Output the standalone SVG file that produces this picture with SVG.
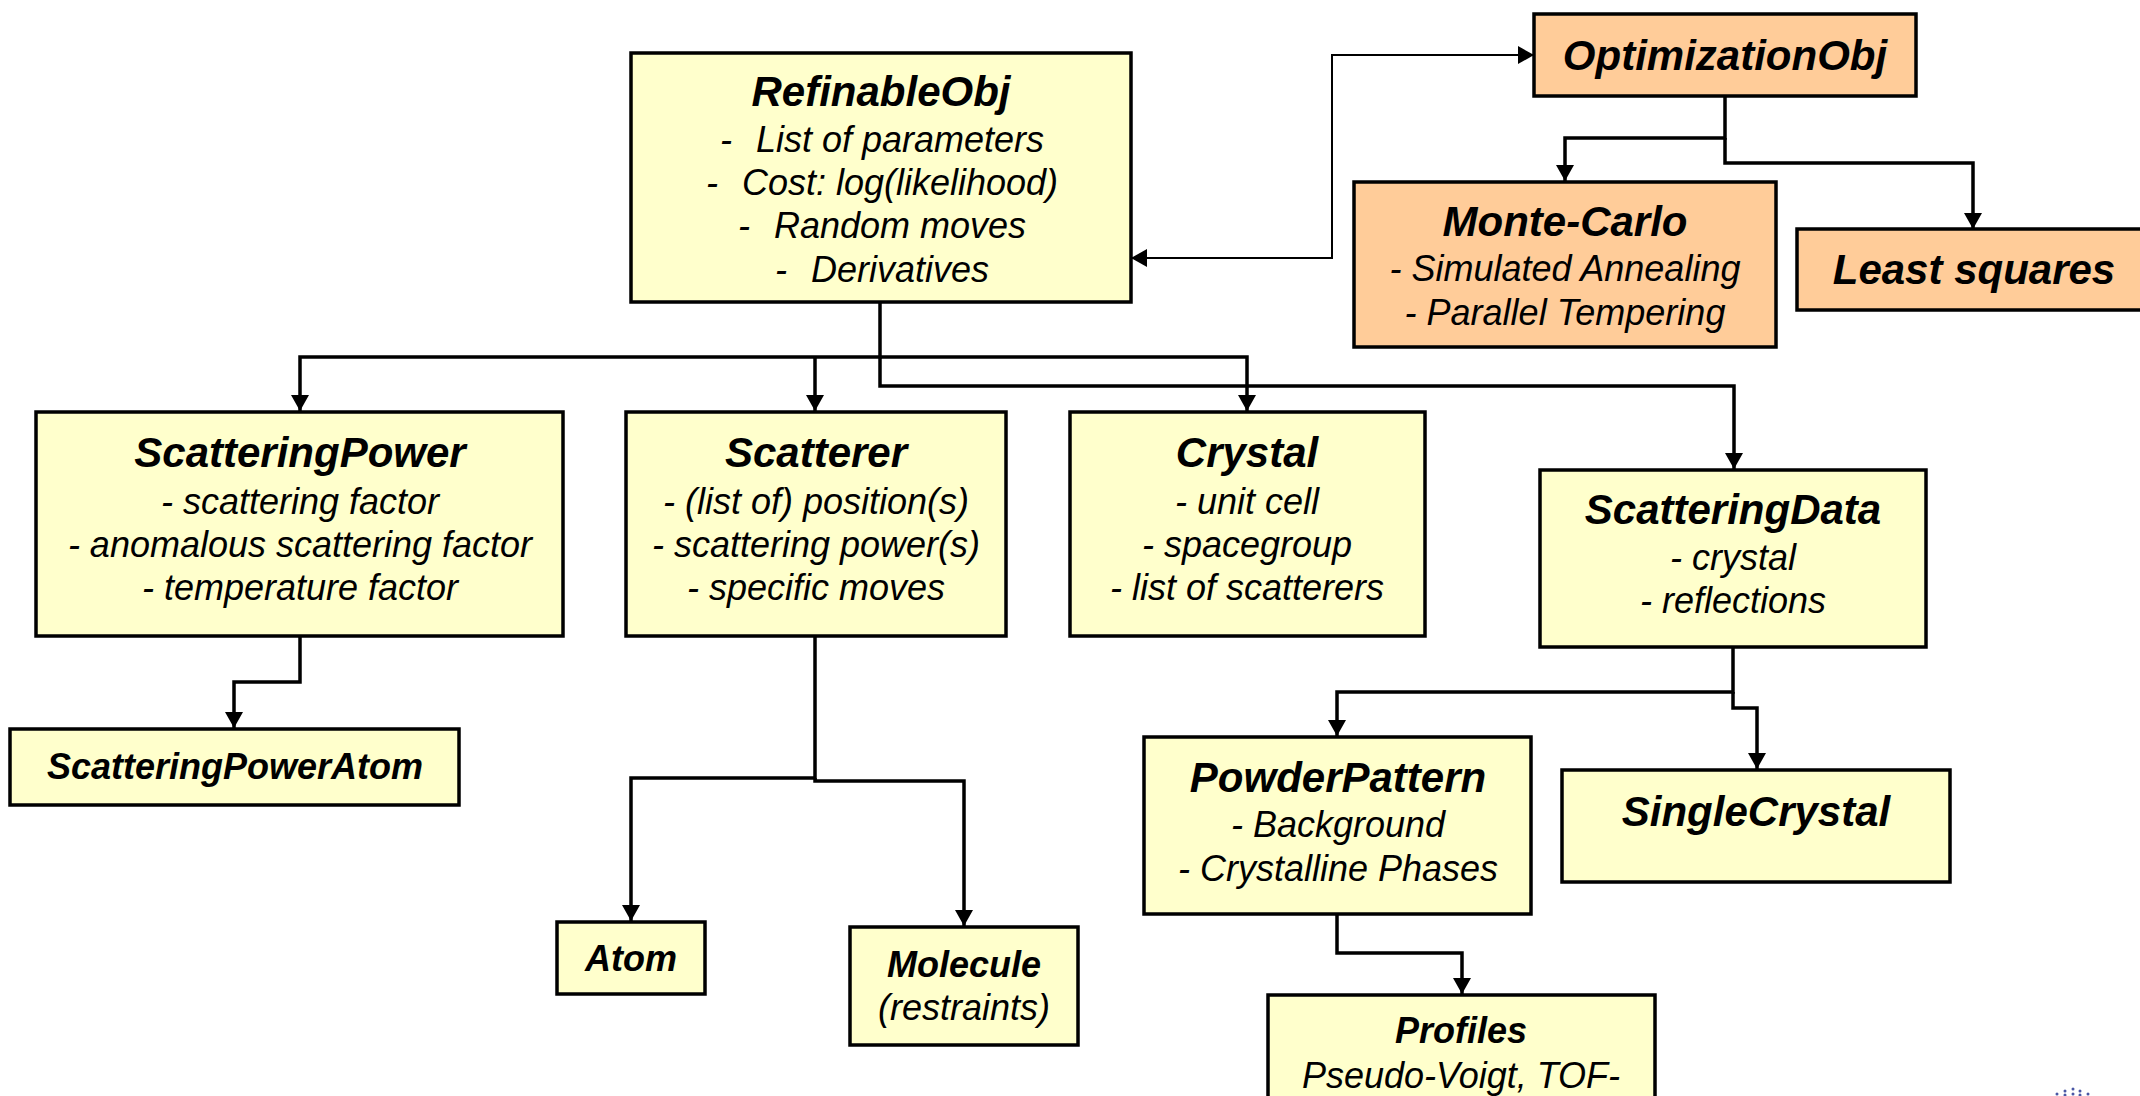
<svg xmlns="http://www.w3.org/2000/svg" width="2140" height="1096" viewBox="0 0 2140 1096">
  <style>
    .box { stroke: #000; stroke-width: 3.5; }
    .yel { fill: #FFFFCC; }
    .org { fill: #FFCC99; }
    text { font-family: "Liberation Sans", Arial, sans-serif; font-style: italic; fill: #000; text-anchor: middle; }
    .t { font-weight: bold; font-size: 42px; }
    .ts { font-weight: bold; font-size: 36px; }
    .b { font-size: 36px; }
    .link { fill: none; stroke: #000; stroke-width: 3.5; }
    .thin { fill: none; stroke: #000; stroke-width: 2; }
  </style>
  <defs>
    <marker id="arr" markerUnits="userSpaceOnUse" markerWidth="18" markerHeight="18" viewBox="0 0 16 18" refX="16" refY="9" orient="auto-start-reverse">
      <path d="M0,0 L16,9 L0,18 Z" fill="#000"/>
    </marker>
  </defs>

  <rect width="2140" height="1096" fill="#fff"/>

  <!-- connectors -->
  <g id="connectors">
    <path class="thin" d="M1131,258 H1332 V55 H1534" marker-start="url(#arr)" marker-end="url(#arr)"/>
    <path class="link" d="M1725,96 V138 H1565 V181" marker-end="url(#arr)"/>
    <path class="link" d="M1725,138 V163 H1973 V229" marker-end="url(#arr)"/>
    <path class="link" d="M880,302 V357 H300 V411" marker-end="url(#arr)"/>
    <path class="link" d="M815,357 V411" marker-end="url(#arr)"/>
    <path class="link" d="M880,357 H1247 V411" marker-end="url(#arr)"/>
    <path class="link" d="M880,357 V386 H1734 V469" marker-end="url(#arr)"/>
    <path class="link" d="M300,637 V682 H234 V728" marker-end="url(#arr)"/>
    <path class="link" d="M815,637 V778 H631 V921" marker-end="url(#arr)"/>
    <path class="link" d="M815,778 V781 H964 V926" marker-end="url(#arr)"/>
    <path class="link" d="M1733,647 V692 H1337 V736" marker-end="url(#arr)"/>
    <path class="link" d="M1733,692 V708 H1757 V769" marker-end="url(#arr)"/>
    <path class="link" d="M1337,914 V953 H1462 V994" marker-end="url(#arr)"/>
  </g>

  <!-- nodes -->
  <g id="refinableobj">
    <rect class="box yel" x="631" y="53" width="500" height="249"/>
    <text class="t" x="881" y="106">RefinableObj</text>
    <text class="b" x="882" y="152">-<tspan dx="24">List of parameters</tspan></text>
    <text class="b" x="882" y="195">-<tspan dx="24">Cost: log(likelihood)</tspan></text>
    <text class="b" x="882" y="238">-<tspan dx="24">Random moves</tspan></text>
    <text class="b" x="882" y="282">-<tspan dx="24">Derivatives</tspan></text>
  </g>

  <g id="optimizationobj">
    <rect class="box org" x="1534" y="14" width="382" height="82"/>
    <text class="t" x="1725" y="70">OptimizationObj</text>
  </g>

  <g id="montecarlo">
    <rect class="box org" x="1354" y="182" width="422" height="165"/>
    <text class="t" x="1565" y="236">Monte-Carlo</text>
    <text class="b" x="1565" y="281">- Simulated Annealing</text>
    <text class="b" x="1565" y="325">- Parallel Tempering</text>
  </g>

  <g id="leastsquares">
    <rect class="box org" x="1797" y="229" width="360" height="81"/>
    <text class="t" x="1974" y="284">Least squares</text>
  </g>

  <g id="scatteringpower">
    <rect class="box yel" x="36" y="412" width="527" height="224"/>
    <text class="t" x="300" y="467">ScatteringPower</text>
    <text class="b" x="300" y="514">- scattering factor</text>
    <text class="b" x="300" y="557">- anomalous scattering factor</text>
    <text class="b" x="300" y="600">- temperature factor</text>
  </g>

  <g id="scatterer">
    <rect class="box yel" x="626" y="412" width="380" height="224"/>
    <text class="t" x="816" y="467">Scatterer</text>
    <text class="b" x="816" y="514">- (list of) position(s)</text>
    <text class="b" x="816" y="557">- scattering power(s)</text>
    <text class="b" x="816" y="600">- specific moves</text>
  </g>

  <g id="crystal">
    <rect class="box yel" x="1070" y="412" width="355" height="224"/>
    <text class="t" x="1247" y="467">Crystal</text>
    <text class="b" x="1247" y="514">- unit cell</text>
    <text class="b" x="1247" y="557">- spacegroup</text>
    <text class="b" x="1247" y="600">- list of scatterers</text>
  </g>

  <g id="scatteringdata">
    <rect class="box yel" x="1540" y="470" width="386" height="177"/>
    <text class="t" x="1733" y="524">ScatteringData</text>
    <text class="b" x="1733" y="570">- crystal</text>
    <text class="b" x="1733" y="613">- reflections</text>
  </g>

  <g id="scatteringpoweratom">
    <rect class="box yel" x="10" y="729" width="449" height="76"/>
    <text class="ts" x="235" y="779">ScatteringPowerAtom</text>
  </g>

  <g id="atom">
    <rect class="box yel" x="557" y="922" width="148" height="72"/>
    <text class="ts" x="631" y="971">Atom</text>
  </g>

  <g id="molecule">
    <rect class="box yel" x="850" y="927" width="228" height="118"/>
    <text class="ts" x="964" y="977">Molecule</text>
    <text class="b" x="964" y="1020">(restraints)</text>
  </g>

  <g id="powderpattern">
    <rect class="box yel" x="1144" y="737" width="387" height="177"/>
    <text class="t" x="1338" y="792">PowderPattern</text>
    <text class="b" x="1338" y="837">- Background</text>
    <text class="b" x="1338" y="881">- Crystalline Phases</text>
  </g>

  <g id="singlecrystal">
    <rect class="box yel" x="1562" y="770" width="388" height="112"/>
    <text class="t" x="1756" y="826">SingleCrystal</text>
  </g>

  <g id="profiles">
    <rect class="box yel" x="1268" y="995" width="387" height="120"/>
    <text class="ts" x="1461" y="1043">Profiles</text>
    <text class="b" x="1461" y="1088">Pseudo-Voigt, TOF-</text>
  </g>

  <!-- small dotted mark, lower right corner -->
  <g id="mark" fill="#2B3A96" opacity="0.85">
    <circle cx="2057" cy="1094" r="1.5"/>
    <circle cx="2065" cy="1091" r="1.5"/>
    <circle cx="2065" cy="1095" r="1.5"/>
    <circle cx="2073" cy="1089" r="1.5"/>
    <circle cx="2073" cy="1094" r="1.5"/>
    <circle cx="2080" cy="1091" r="1.5"/>
    <circle cx="2080" cy="1095" r="1.5"/>
    <circle cx="2088" cy="1094" r="1.5"/>
  </g>
</svg>
